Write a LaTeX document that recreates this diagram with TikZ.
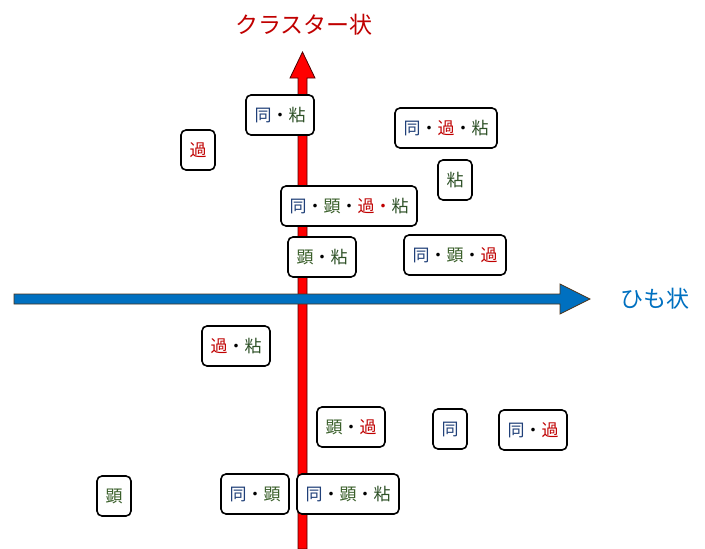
\documentclass[tikz,border=0pt]{standalone}
\usepackage{fontspec}
\newfontfamily\jp{Noto Sans CJK JP}
\definecolor{cdou}{HTML}{1F3F78}
\definecolor{cken}{HTML}{3A5F2A}
\definecolor{cka}{HTML}{C00000}
\definecolor{cnen}{HTML}{2F5228}
\definecolor{axred}{HTML}{FF0000}
\definecolor{axblue}{HTML}{0070C0}
\newcommand{\D}{\textcolor{cdou}{同}}
\newcommand{\K}{\textcolor{cken}{顕}}
\newcommand{\A}{\textcolor{cka}{過}}
\newcommand{\N}{\textcolor{cnen}{粘}}
\newcommand{\dt}{・}
\begin{document}
\begin{tikzpicture}[x=1pt,y=-1pt,
  tag/.style={draw=black,line width=1.6pt,rounded corners=5pt,fill=white,
    inner xsep=8.5pt,inner ysep=0pt,minimum height=40pt,
    font=\jp\fontsize{17pt}{17pt}\selectfont},
  ttl/.style={font=\jp\fontsize{23pt}{23pt}\selectfont}]
\useasboundingbox (0,0) rectangle (705,549);
% vertical red axis
\draw[fill=axred,draw=black!70!red,line width=0.8pt]
  (298,549) -- (298,78) -- (290,78) -- (302.5,52) -- (315,78) -- (307,78) -- (307,549) -- cycle;
% horizontal blue axis
\draw[fill=axblue,draw=black!60!brown,line width=0.8pt]
  (14,294) -- (560,294) -- (560,284) -- (590,299) -- (560,314) -- (560,304) -- (14,304) -- cycle;
\node[ttl,text=cka] (ty) at (304,25) {クラスター状};
\node[ttl,text=axblue] (tx) at (655,299) {ひも状};
% tags
\node[tag] (n1) at (280,115) {\D\dt\N};
\node[tag] (n2) at (198,150) {\A};
\node[tag] (n3) at (446,128) {\D\dt\A\dt\N};
\node[tag] (n4) at (455,180) {\N};
\node[tag] (n5) at (349,206) {\D\dt\K\dt\A\textcolor{cka}{\dt}\N};
\node[tag] (n6) at (322,257) {\K\dt\N};
\node[tag] (n7) at (455,255) {\D\dt\K\dt\A};
\node[tag] (n8) at (236,346) {\A\dt\N};
\node[tag] (n9) at (351,427) {\K\dt\A};
\node[tag] (n10) at (450,429) {\D};
\node[tag] (n11) at (533,430) {\D\dt\A};
\node[tag] (n12) at (114,496) {\K};
\node[tag] (n13) at (255,494) {\D\dt\K};
\node[tag] (n14) at (348,494) {\D\dt\K\dt\N};
\end{tikzpicture}
\end{document}
